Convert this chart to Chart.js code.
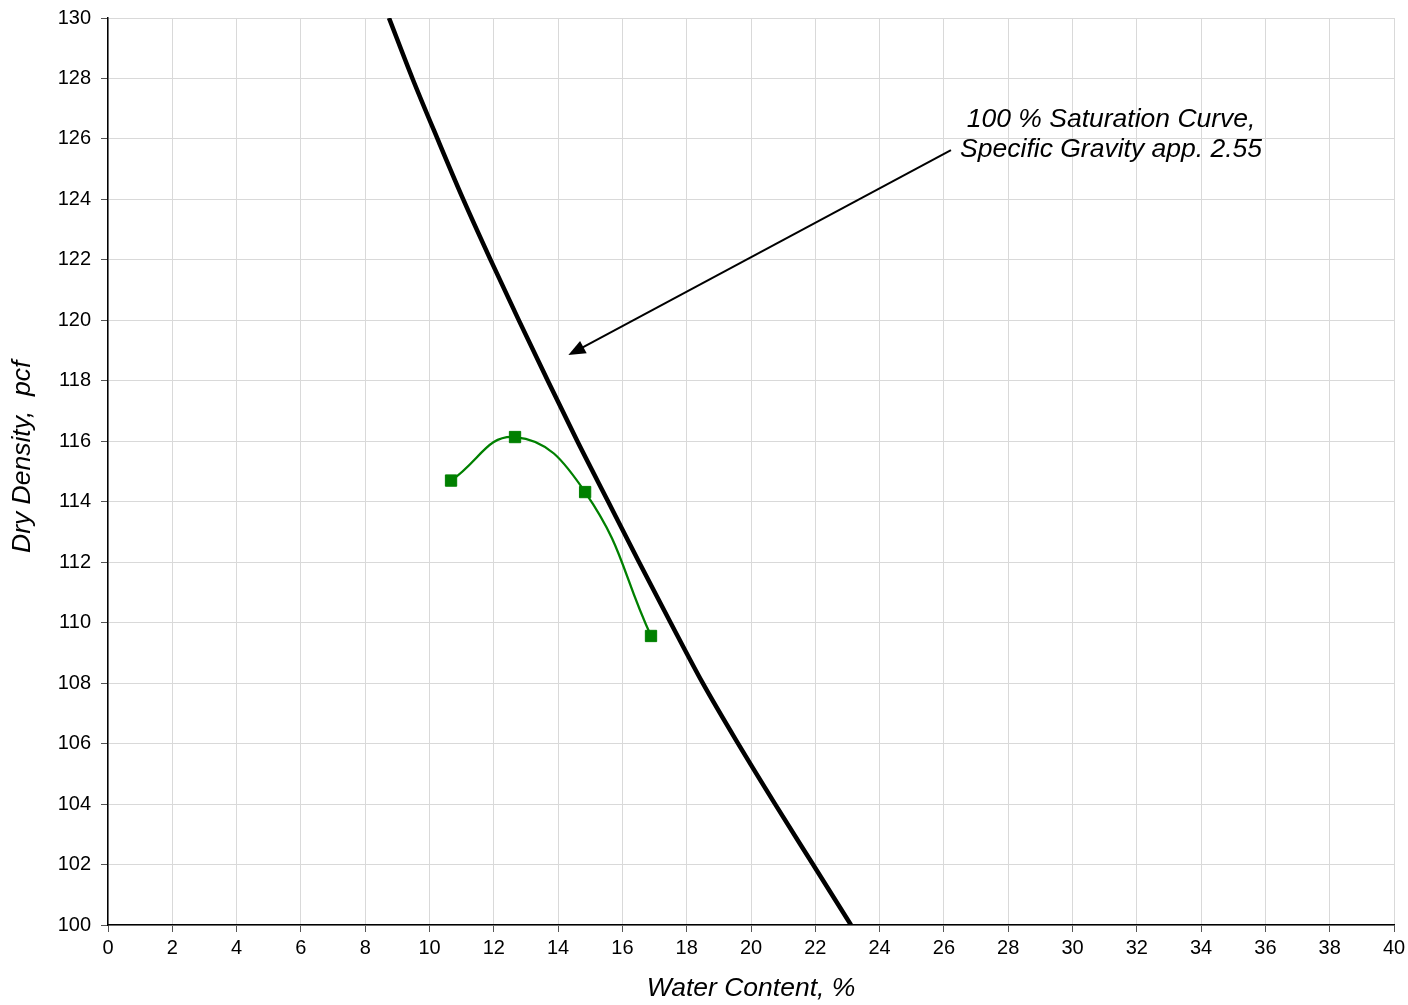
<!DOCTYPE html>
<html lang="en">
<head>
    <meta charset="UTF-8">
    <title>Dry Density vs Water Content</title>
    <script src="https://cdn.jsdelivr.net/npm/chart.js"></script>
    <style>
        html, body { margin: 0; padding: 0; background: #fff; }
        #chart { display: block; }
    </style>
</head>
<body>
    <canvas id="chart" width="1408" height="1005"></canvas>

    <script>
        // Compaction test points (water content %, dry density pcf)
        const testWater = [10.67, 12.66, 14.84, 16.89];
        const testDensity = [114.7, 116.14, 114.32, 109.56];

        // 100 % saturation curve
        const satWater = [8.74, 9.47, 10.25, 11.05, 11.9, 12.78, 13.68, 14.6, 15.56, 16.52, 17.5, 18.5, 19.6, 20.75, 21.93, 23.11];
        const satDensity = [130, 128, 126, 124, 122, 120, 118, 116, 114, 112, 110, 108, 106, 104, 102, 100];

        const xTicks = [0, 40, 2];   // min, max, step
        const yTicks = [100, 130, 2];

        const noteLines = ['100 % Saturation Curve,', 'Specific Gravity app. 2.55'];
        const noteAt = [31.2, 126.4, 125.41];   // x, baseline line 1, baseline line 2
        const arrowFrom = [26.22, 125.63];
        const arrowTo = [14.32, 118.85];

        const fontFamily = "'Liberation Sans', Arial, sans-serif";

        const toPoints = (xs, ys) => xs.map((x, i) => ({ x: x, y: ys[i] }));

        // draws the note text and the arrow pointing at the curve
        const notePlugin = {
            id: 'note',
            afterDatasetsDraw(chart) {
                const ctx = chart.ctx;
                const xs = chart.scales.x, ys = chart.scales.y;
                ctx.save();
                ctx.fillStyle = '#000';
                ctx.font = 'italic 26.5px ' + fontFamily;
                ctx.textAlign = 'center';
                ctx.textBaseline = 'alphabetic';
                const cx = xs.getPixelForValue(noteAt[0]);
                ctx.fillText(noteLines[0], cx, ys.getPixelForValue(noteAt[1]));
                ctx.fillText(noteLines[1], cx, ys.getPixelForValue(noteAt[2]));

                const x1 = xs.getPixelForValue(arrowFrom[0]), y1 = ys.getPixelForValue(arrowFrom[1]);
                const x2 = xs.getPixelForValue(arrowTo[0]), y2 = ys.getPixelForValue(arrowTo[1]);
                const ang = Math.atan2(y2 - y1, x2 - x1);
                const headLen = 17, headW = 7;
                ctx.strokeStyle = '#000';
                ctx.lineWidth = 2;
                ctx.beginPath();
                ctx.moveTo(x1, y1);
                ctx.lineTo(x2 - Math.cos(ang) * headLen * 0.8, y2 - Math.sin(ang) * headLen * 0.8);
                ctx.stroke();
                ctx.beginPath();
                ctx.moveTo(x2, y2);
                ctx.lineTo(x2 - Math.cos(ang) * headLen + Math.sin(ang) * headW, y2 - Math.sin(ang) * headLen - Math.cos(ang) * headW);
                ctx.lineTo(x2 - Math.cos(ang) * headLen - Math.sin(ang) * headW, y2 - Math.sin(ang) * headLen + Math.cos(ang) * headW);
                ctx.closePath();
                ctx.fill();
                ctx.restore();
            }
        };

        new Chart(document.getElementById('chart'), {
            type: 'scatter',
            data: {
                datasets: [{
                    label: '100 % Saturation',
                    data: toPoints(satWater, satDensity),
                    showLine: true,
                    borderColor: '#000',
                    borderWidth: 4.5,
                    pointRadius: 0,
                    cubicInterpolationMode: 'monotone',
                    order: 2
                }, {
                    label: 'Test',
                    data: toPoints(testWater, testDensity),
                    showLine: true,
                    borderColor: '#008000',
                    backgroundColor: '#008000',
                    borderWidth: 2.3,
                    pointStyle: 'rect',
                    pointRadius: 8,
                    pointBorderWidth: 1,
                    tension: 0.45,
                    order: 1
                }]
            },
            options: {
                responsive: false,
                animation: false,
                layout: { padding: { top: 18, right: 14, left: 0, bottom: 0 } },
                plugins: {
                    legend: { display: false },
                    tooltip: { enabled: false }
                },
                scales: {
                    x: {
                        type: 'linear',
                        min: xTicks[0],
                        max: xTicks[1],
                        afterFit(scale) {
                            scale.height = 80;
                            scale.paddingLeft = 0;
                            scale.paddingRight = 0;
                        },
                        ticks: {
                            stepSize: xTicks[2],
                            color: '#000',
                            padding: 4,
                            maxRotation: 0,
                            font: { family: fontFamily, size: 20 }
                        },
                        grid: { color: '#d9d9d9', lineWidth: 1, tickLength: 7, tickColor: '#555' },
                        border: { color: '#000', width: 1.5 },
                        title: {
                            display: true,
                            text: 'Water Content, %',
                            color: '#000',
                            padding: { top: 0, bottom: 0 },
                            font: { family: fontFamily, size: 26.5, style: 'italic' }
                        }
                    },
                    y: {
                        type: 'linear',
                        min: yTicks[0],
                        max: yTicks[1],
                        afterFit(scale) {
                            scale.width = 108;
                            scale.paddingTop = 0;
                            scale.paddingBottom = 0;
                        },
                        ticks: {
                            stepSize: yTicks[2],
                            color: '#000',
                            padding: 10,
                            font: { family: fontFamily, size: 20 }
                        },
                        grid: { color: '#d9d9d9', lineWidth: 1, tickLength: 7, tickColor: '#555' },
                        border: { color: '#000', width: 1.5 },
                        title: {
                            display: true,
                            text: '    Dry Density,  pcf',
                            color: '#000',
                            padding: { top: 7, bottom: 0 },
                            font: { family: fontFamily, size: 26.5, style: 'italic' }
                        }
                    }
                }
            },
            plugins: [notePlugin]
        });
    </script>
</body>
</html>
